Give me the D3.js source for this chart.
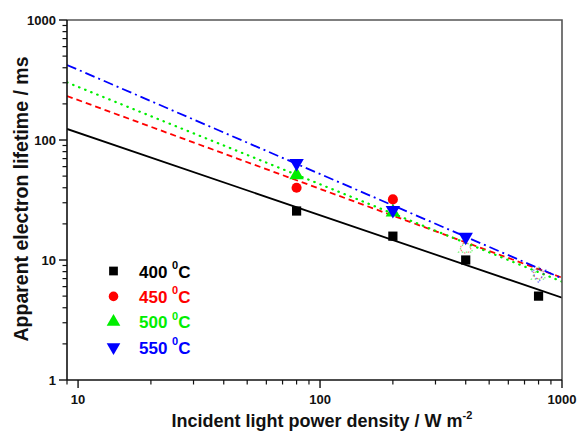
<!DOCTYPE html>
<html>
<head>
<meta charset="utf-8">
<script src="https://cdn.jsdelivr.net/npm/d3@7"></script>
<style>
  html, body { margin: 0; padding: 0; background: #fff; }
  svg { display: block; font-family: "Liberation Sans", Arial, sans-serif; }
</style>
</head>
<body>
<svg id="chart" width="578" height="431"></svg>
<script>
// Light power densities (W m^-2) where lifetimes were measured
const powers = [80, 200, 400, 800];

// Series labels (annealing temperature, °C)
const temps = ["400", "450", "500", "550"];

// Apparent electron lifetime (ms) per temperature
const lifetime400 = [25.6, 15.8, 10.0, 5.0];
const lifetime450 = [40.0, 32.0, 12.6, 7.7];
const lifetime500 = [51.0, 25.0, 12.6, 7.5];
const lifetime550 = [64.0, 26.0, 15.6, 7.6];

// Which points are drawn solid (the rest are faint, overlapped by fit lines)
const solid400 = [true, true, true, true];
const solid450 = [true, true, false, false];
const solid500 = [true, true, false, false];
const solid550 = [true, true, true, false];

// Power-law fit lines: lifetime at each end of the power range
const fitPowers = [9, 1000];
const fitStart = [123.6, 232.6, 302, 422];
const fitEnd = [4.85, 7.12, 6.6, 7.04];

// Axis ticks
const xMajor = [10, 100, 1000];
const yMajor = [1, 10, 100, 1000];

const colors = ["#000000", "#ff0000", "#00ee00", "#0000ff"];
const dashes = [null, "6,4", "2,5", "10,4,2,4"];
const shapes = [d3.symbolSquare, d3.symbolCircle, d3.symbolTriangle, d3.symbolTriangle];
const sizes = [85, 80, 90, 90];
const rotations = [0, 0, 0, 180];

const series = [lifetime400, lifetime450, lifetime500, lifetime550];
const solids = [solid400, solid450, solid500, solid550];

const svg = d3.select("#chart");
const m = { left: 67, top: 20, right: 562, bottom: 380 };

const x = d3.scaleLog().domain([9, 1000]).range([m.left, m.right]);
const y = d3.scaleLog().domain([1, 1000]).range([m.bottom, m.top]);

// Minor ticks for each decade
function minorTicks(lo, hi) {
  const out = [];
  for (let d = lo; d < hi; d *= 10) {
    for (let k = 2; k <= 9; k++) out.push(d * k);
  }
  return out;
}

const clipId = "plotclip";
svg.append("clipPath").attr("id", clipId)
  .append("rect").attr("x", m.left).attr("y", m.top)
  .attr("width", m.right - m.left).attr("height", m.bottom - m.top);

// Fit lines
const plot = svg.append("g").attr("clip-path", `url(#${clipId})`);
const line = d3.line().x(d => x(d[0])).y(d => y(d[1]));
temps.forEach((t, i) => {
  plot.append("path")
    .attr("d", line([[fitPowers[0], fitStart[i]], [fitPowers[1], fitEnd[i]]]))
    .attr("fill", "none")
    .attr("stroke", colors[i])
    .attr("stroke-width", i === 2 ? 2.2 : 1.8)
    .attr("stroke-linecap", i === 2 ? "round" : "butt")
    .attr("stroke-dasharray", i === 2 ? "0.5,6" : dashes[i]);
});

// Data markers
temps.forEach((t, i) => {
  const sym = d3.symbol().type(shapes[i]).size(sizes[i]);
  series[i].forEach((v, j) => {
    const g = plot.append("path")
      .attr("d", sym())
      .attr("transform", `translate(${x(powers[j])},${y(v)}) rotate(${rotations[i]})`);
    if (solids[i][j]) {
      g.attr("fill", colors[i]);
    } else {
      g.attr("fill", "none")
        .attr("stroke", colors[i])
        .attr("stroke-width", 1.2)
        .attr("stroke-dasharray", "1.5,2.5")
        .attr("opacity", 0.55);
    }
  });
});

// Frame: top and right
svg.append("path")
  .attr("d", `M${m.left},${m.top}H${m.right}V${m.bottom}`)
  .attr("fill", "none").attr("stroke", "#555").attr("stroke-width", 1.6);

// Y axis
const yAxis = svg.append("g").attr("transform", `translate(${m.left},0)`);
yAxis.append("line").attr("x1", 0).attr("x2", 0).attr("y1", m.top).attr("y2", m.bottom)
  .attr("stroke", "#111").attr("stroke-width", 1.6);
yAxis.selectAll(".ymaj").data(yMajor).join("line")
  .attr("x1", -8).attr("x2", 0).attr("y1", d => y(d)).attr("y2", d => y(d))
  .attr("stroke", "#111").attr("stroke-width", 1.4);
yAxis.selectAll(".ymin").data(minorTicks(1, 1000)).join("line")
  .attr("x1", -4.5).attr("x2", 0).attr("y1", d => y(d)).attr("y2", d => y(d))
  .attr("stroke", "#111").attr("stroke-width", 1.2);
yAxis.selectAll(".ylab").data(yMajor).join("text")
  .attr("x", -11).attr("y", d => y(d)).attr("dy", "0.35em")
  .attr("text-anchor", "end").attr("font-size", 13).attr("font-weight", "bold")
  .attr("fill", "#111").text(d => d);

// X axis
const xAxis = svg.append("g").attr("transform", `translate(0,${m.bottom})`);
xAxis.append("line").attr("x1", m.left).attr("x2", m.right).attr("y1", 0).attr("y2", 0)
  .attr("stroke", "#111").attr("stroke-width", 1.6);
xAxis.selectAll(".xmaj").data(xMajor).join("line")
  .attr("x1", d => x(d)).attr("x2", d => x(d)).attr("y1", 0).attr("y2", 8)
  .attr("stroke", "#111").attr("stroke-width", 1.4);
xAxis.selectAll(".xmin").data(minorTicks(10, 1000).concat([9])).join("line")
  .attr("x1", d => x(d)).attr("x2", d => x(d)).attr("y1", 0).attr("y2", 4.5)
  .attr("stroke", "#111").attr("stroke-width", 1.2);
xAxis.selectAll(".xlab").data(xMajor).join("text")
  .attr("x", d => x(d)).attr("y", 24)
  .attr("text-anchor", "middle").attr("font-size", 13).attr("font-weight", "bold")
  .attr("fill", "#111").text(d => d);

// Axis titles
const xTitle = svg.append("text")
  .attr("x", 322).attr("y", 427)
  .attr("text-anchor", "middle").attr("font-size", 18).attr("font-weight", "bold")
  .attr("fill", "#111");
xTitle.append("tspan").text("Incident light power density / W m");
xTitle.append("tspan").attr("dy", -8).attr("font-size", 11).text("-2");

svg.append("text")
  .attr("transform", `translate(28,199) rotate(-90)`)
  .attr("text-anchor", "middle").attr("font-size", 19.5).attr("font-weight", "bold")
  .attr("fill", "#111").text("Apparent electron lifetime / ms");

// Legend
const legend = svg.append("g");
temps.forEach((t, i) => {
  const ly = 271 + i * 25.4;
  const sym = d3.symbol().type(shapes[i]).size(sizes[i] * 0.9);
  legend.append("path").attr("d", sym())
    .attr("transform", `translate(113.5,${ly}) rotate(${rotations[i]})`)
    .attr("fill", colors[i]);
  const tx = legend.append("text")
    .attr("x", 139).attr("y", ly + 6.5)
    .attr("font-size", 17).attr("font-weight", "bold").attr("fill", colors[i]);
  tx.append("tspan").text(t + " ");
  tx.append("tspan").attr("dy", -8.5).attr("font-size", 11).text("0");
  tx.append("tspan").attr("dy", 8.5).text("C");
});
</script>
</body>
</html>
